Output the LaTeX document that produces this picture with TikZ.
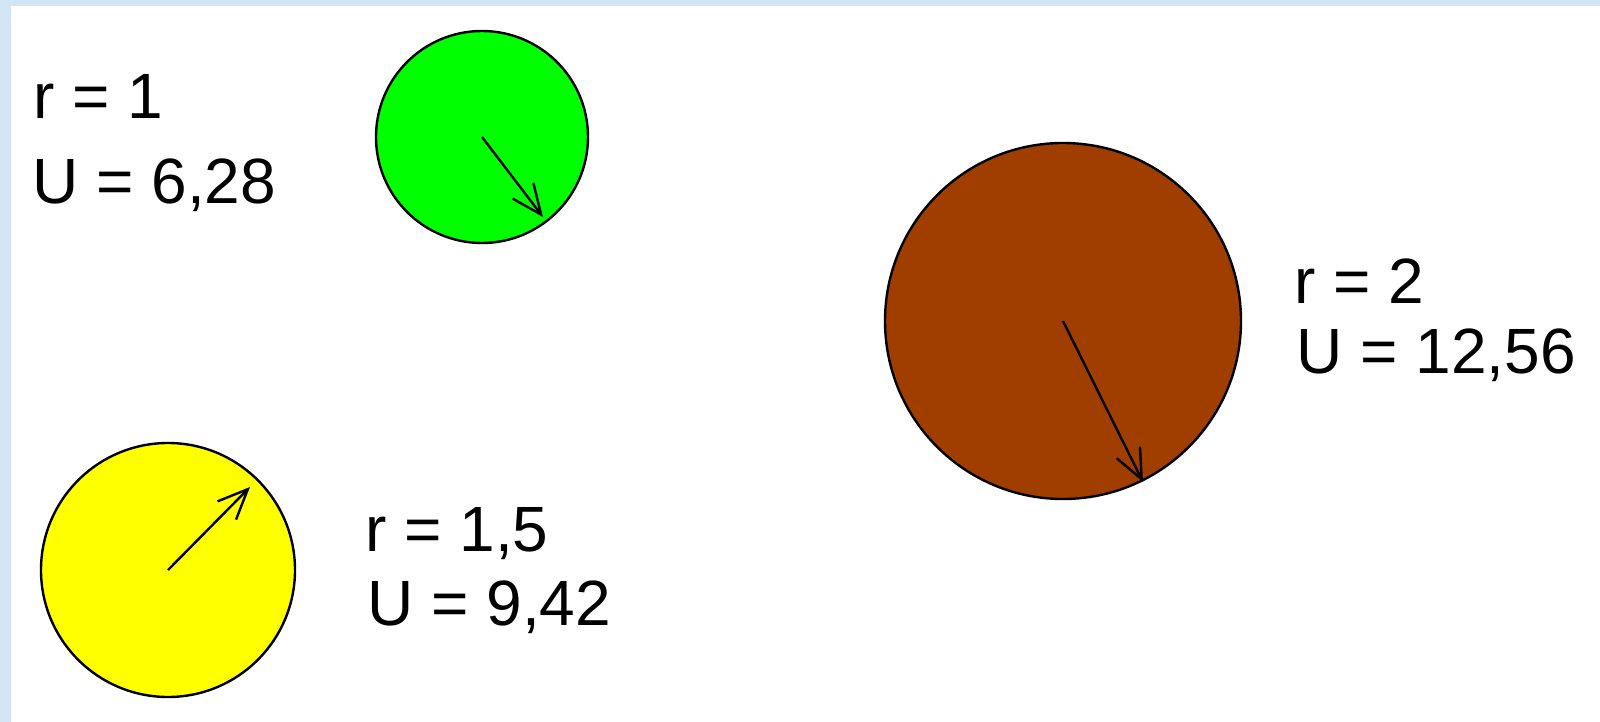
\documentclass[tikz,border=0pt]{standalone}
\usepackage{fontspec}
\setmainfont{Liberation Sans}
\usetikzlibrary{arrows.meta}
\definecolor{paneblue}{RGB}{212,230,246}
\definecolor{rust}{RGB}{160,62,0}
\definecolor{lemon}{RGB}{255,255,0}
\definecolor{lime}{RGB}{0,255,0}

\begin{document}
\begin{tikzpicture}[x = 0.5pt, y = -0.5pt,
    disc/.style = {circle, draw, line width = 1.2pt, inner sep = 0pt, outer sep = 0pt},
    radius arrow/.style = {-{Straight Barb[length = 15pt, width = 13pt]}, line width = 1.2pt},
    label text/.style = {anchor = base west, inner sep = 0pt, font = \fontsize{32}{38}\selectfont}]
  \useasboundingbox (0, 0) rectangle (1600, 722);
  \fill [paneblue] (0, 0) rectangle (1600, 6);
  \fill [paneblue] (0, 0) rectangle (11, 722);

  \node [disc, fill = lime, minimum size = 106pt] (small) at (482, 137) {};
  \node [disc, fill = lemon, minimum size = 127pt] (mid) at (168, 570) {};
  \node [disc, fill = rust, minimum size = 178pt] (big) at (1063, 321) {};

  \coordinate (small tip) at (543, 217);
  \coordinate (mid tip) at (250, 487);
  \coordinate (big tip) at (1143, 482);
  \draw [radius arrow] (small.center) -- (small tip);
  \draw [radius arrow] (mid.center) -- (mid tip);
  \draw [radius arrow] (big.center) -- (big tip);

  \node [label text] (r small) at (33, 119) {r = 1};
  \node [label text] (U small) at (32, 203) {U = 6,28};
  \node [label text] (r mid) at (365, 551) {r = 1,5};
  \node [label text] (U mid) at (367, 625) {U = 9,42};
  \node [label text] (r big) at (1294, 303) {r = 2};
  \node [label text] (U big) at (1296, 373) {U = 12,56};
\end{tikzpicture}
\end{document}
